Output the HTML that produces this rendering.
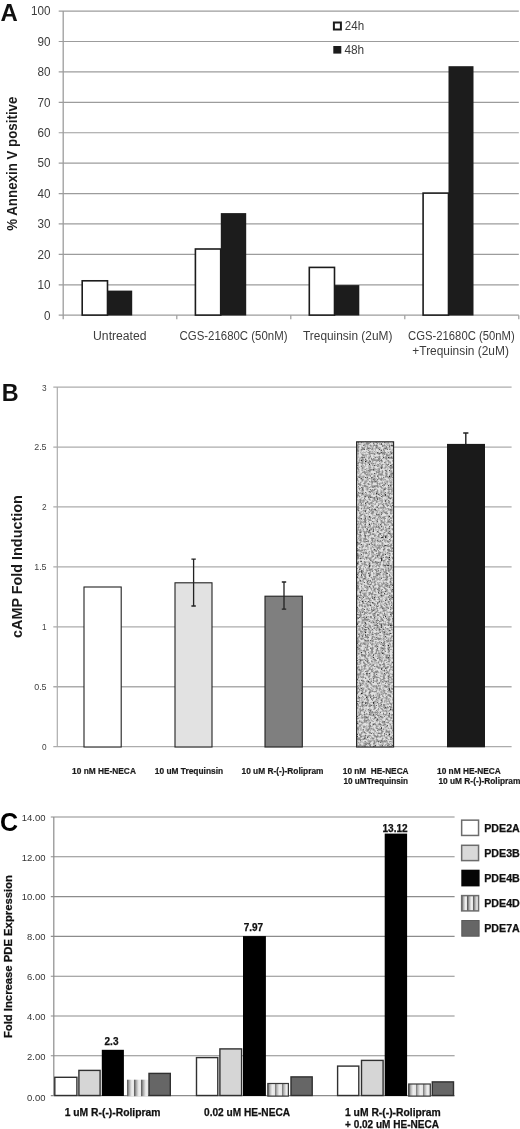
<!DOCTYPE html>
<html><head><meta charset="utf-8"><title>Figure</title>
<style>
html,body{margin:0;padding:0;background:#fff;}
svg{display:block;font-family:"Liberation Sans",sans-serif;}
</style></head>
<body>
<svg width="520" height="1129" viewBox="0 0 520 1129">
<rect width="520" height="1129" fill="#fff"/>
<defs>
<filter id="spk" x="0" y="0" width="100%" height="100%" color-interpolation-filters="sRGB">
<feTurbulence type="fractalNoise" baseFrequency="0.42" numOctaves="2" seed="3" result="n"/>
<feColorMatrix in="n" type="matrix" values="3.2 0 0 0 -1.0  3.2 0 0 0 -1.0  3.2 0 0 0 -1.0  0 0 0 0 1" result="t1"/>
<feColorMatrix in="t1" type="matrix" values="0.34 0 0 0 0.54  0.34 0 0 0 0.54  0.34 0 0 0 0.54  0 0 0 0 1" result="tone"/>
<feTurbulence type="fractalNoise" baseFrequency="0.75" numOctaves="1" seed="19" result="n2"/>
<feColorMatrix in="n2" type="matrix" values="0 0 0 0 0  0 0 0 0 0  0 0 0 0 0  0 6 0 0 -3.75" result="a"/>
<feFlood flood-color="#181818" result="f"/>
<feComposite in="f" in2="a" operator="in" result="dots"/>
<feMerge result="m"><feMergeNode in="tone"/><feMergeNode in="dots"/></feMerge>
<feGaussianBlur in="m" stdDeviation="0.4" result="bl"/>
<feComposite in="bl" in2="SourceGraphic" operator="in"/>
</filter>
<linearGradient id="strp0" x1="127.30000000000001" y1="0" x2="134.3" y2="0" gradientUnits="userSpaceOnUse" spreadMethod="repeat"><stop offset="0" stop-color="#606060"/><stop offset="0.33" stop-color="#b4b4b4"/><stop offset="0.66" stop-color="#eeeeee"/><stop offset="1" stop-color="#e6e6e6"/></linearGradient>
<linearGradient id="strp1" x1="267.59999999999997" y1="0" x2="274.59999999999997" y2="0" gradientUnits="userSpaceOnUse" spreadMethod="repeat"><stop offset="0" stop-color="#606060"/><stop offset="0.33" stop-color="#b4b4b4"/><stop offset="0.66" stop-color="#eeeeee"/><stop offset="1" stop-color="#e6e6e6"/></linearGradient>
<linearGradient id="strp2" x1="408.5" y1="0" x2="415.5" y2="0" gradientUnits="userSpaceOnUse" spreadMethod="repeat"><stop offset="0" stop-color="#606060"/><stop offset="0.33" stop-color="#b4b4b4"/><stop offset="0.66" stop-color="#eeeeee"/><stop offset="1" stop-color="#e6e6e6"/></linearGradient>
<linearGradient id="strpL" x1="461.6" y1="0" x2="467.5" y2="0" gradientUnits="userSpaceOnUse" spreadMethod="repeat"><stop offset="0" stop-color="#606060"/><stop offset="0.33" stop-color="#b4b4b4"/><stop offset="0.66" stop-color="#eeeeee"/><stop offset="1" stop-color="#e6e6e6"/></linearGradient>
</defs>
<line x1="58.7" y1="315.20" x2="518.8" y2="315.20" stroke="#9c9c9c" stroke-width="1.2"/>
<text x="50.6" y="319.5" font-size="12.5" text-anchor="end" fill="#3c3c3c" textLength="6.5" lengthAdjust="spacingAndGlyphs">0</text>
<line x1="58.7" y1="284.79" x2="518.8" y2="284.79" stroke="#9c9c9c" stroke-width="1.2"/>
<text x="50.6" y="289.09" font-size="12.5" text-anchor="end" fill="#3c3c3c" textLength="13.0" lengthAdjust="spacingAndGlyphs">10</text>
<line x1="58.7" y1="254.38" x2="518.8" y2="254.38" stroke="#9c9c9c" stroke-width="1.2"/>
<text x="50.6" y="258.68" font-size="12.5" text-anchor="end" fill="#3c3c3c" textLength="13.0" lengthAdjust="spacingAndGlyphs">20</text>
<line x1="58.7" y1="223.97" x2="518.8" y2="223.97" stroke="#9c9c9c" stroke-width="1.2"/>
<text x="50.6" y="228.27" font-size="12.5" text-anchor="end" fill="#3c3c3c" textLength="13.0" lengthAdjust="spacingAndGlyphs">30</text>
<line x1="58.7" y1="193.56" x2="518.8" y2="193.56" stroke="#9c9c9c" stroke-width="1.2"/>
<text x="50.6" y="197.86" font-size="12.5" text-anchor="end" fill="#3c3c3c" textLength="13.0" lengthAdjust="spacingAndGlyphs">40</text>
<line x1="58.7" y1="163.15" x2="518.8" y2="163.15" stroke="#9c9c9c" stroke-width="1.2"/>
<text x="50.6" y="167.45" font-size="12.5" text-anchor="end" fill="#3c3c3c" textLength="13.0" lengthAdjust="spacingAndGlyphs">50</text>
<line x1="58.7" y1="132.74" x2="518.8" y2="132.74" stroke="#9c9c9c" stroke-width="1.2"/>
<text x="50.6" y="137.04" font-size="12.5" text-anchor="end" fill="#3c3c3c" textLength="13.0" lengthAdjust="spacingAndGlyphs">60</text>
<line x1="58.7" y1="102.33" x2="518.8" y2="102.33" stroke="#9c9c9c" stroke-width="1.2"/>
<text x="50.6" y="106.63" font-size="12.5" text-anchor="end" fill="#3c3c3c" textLength="13.0" lengthAdjust="spacingAndGlyphs">70</text>
<line x1="58.7" y1="71.92" x2="518.8" y2="71.92" stroke="#9c9c9c" stroke-width="1.2"/>
<text x="50.6" y="76.22" font-size="12.5" text-anchor="end" fill="#3c3c3c" textLength="13.0" lengthAdjust="spacingAndGlyphs">80</text>
<line x1="58.7" y1="41.51" x2="518.8" y2="41.51" stroke="#9c9c9c" stroke-width="1.2"/>
<text x="50.6" y="45.81" font-size="12.5" text-anchor="end" fill="#3c3c3c" textLength="13.0" lengthAdjust="spacingAndGlyphs">90</text>
<line x1="58.7" y1="11.10" x2="518.8" y2="11.10" stroke="#9c9c9c" stroke-width="1.2"/>
<text x="50.6" y="15.4" font-size="12.5" text-anchor="end" fill="#3c3c3c" textLength="19.5" lengthAdjust="spacingAndGlyphs">100</text>
<line x1="63.2" y1="11.1" x2="63.2" y2="319.2" stroke="#9c9c9c" stroke-width="1.3"/>
<line x1="176.8" y1="315.2" x2="176.8" y2="319.2" stroke="#9c9c9c" stroke-width="1.2"/>
<line x1="290.8" y1="315.2" x2="290.8" y2="319.2" stroke="#9c9c9c" stroke-width="1.2"/>
<line x1="404.8" y1="315.2" x2="404.8" y2="319.2" stroke="#9c9c9c" stroke-width="1.2"/>
<line x1="518.8" y1="315.2" x2="518.8" y2="319.2" stroke="#9c9c9c" stroke-width="1.2"/>
<rect x="82.20" y="280.80" width="25.30" height="34.30" fill="#fff" stroke="#1c1c1c" stroke-width="1.6"/>
<rect x="107.6" y="290.60" width="24.60" height="24.90" fill="#1c1c1c"/>
<rect x="195.40" y="249.00" width="25.30" height="66.10" fill="#fff" stroke="#1c1c1c" stroke-width="1.6"/>
<rect x="220.8" y="213.10" width="25.40" height="102.40" fill="#1c1c1c"/>
<rect x="309.30" y="267.40" width="25.20" height="47.70" fill="#fff" stroke="#1c1c1c" stroke-width="1.6"/>
<rect x="334.7" y="285.10" width="24.60" height="30.40" fill="#1c1c1c"/>
<rect x="423.10" y="193.10" width="25.40" height="122.00" fill="#fff" stroke="#1c1c1c" stroke-width="1.6"/>
<rect x="448.5" y="66.20" width="25.00" height="249.30" fill="#1c1c1c"/>
<text x="119.8" y="340.2" font-size="12.5" text-anchor="middle" fill="#3c3c3c" textLength="53.4" lengthAdjust="spacingAndGlyphs">Untreated</text>
<text x="233.5" y="340.2" font-size="12.5" text-anchor="middle" fill="#3c3c3c" textLength="108" lengthAdjust="spacingAndGlyphs">CGS-21680C (50nM)</text>
<text x="347.7" y="340.2" font-size="12.5" text-anchor="middle" fill="#3c3c3c" textLength="89.3" lengthAdjust="spacingAndGlyphs">Trequinsin (2uM)</text>
<text x="461.4" y="340.2" font-size="12.5" text-anchor="middle" fill="#3c3c3c" textLength="106.6" lengthAdjust="spacingAndGlyphs">CGS-21680C (50nM)</text>
<text x="460.6" y="355.2" font-size="12.5" text-anchor="middle" fill="#3c3c3c" textLength="96.5" lengthAdjust="spacingAndGlyphs">+Trequinsin (2uM)</text>
<rect x="333.9" y="22.5" width="7" height="7" fill="#fff" stroke="#1c1c1c" stroke-width="2"/>
<text x="344.8" y="30" font-size="12.5" fill="#3c3c3c" textLength="19.4" lengthAdjust="spacingAndGlyphs">24h</text>
<rect x="333.3" y="46" width="8" height="7.6" fill="#1c1c1c"/>
<text x="344.4" y="53.8" font-size="12.5" fill="#3c3c3c" textLength="19.8" lengthAdjust="spacingAndGlyphs">48h</text>
<text x="17.3" y="163.7" font-size="14.4" text-anchor="middle" font-weight="bold" fill="#1a1a1a" textLength="134.2" lengthAdjust="spacingAndGlyphs" transform="rotate(-90 17.3 163.7)">% Annexin V positive</text>
<text x="0.6" y="21.2" font-size="23.4" font-weight="bold" fill="#111" textLength="17.3" lengthAdjust="spacingAndGlyphs">A</text>
<line x1="53.3" y1="746.70" x2="511.6" y2="746.70" stroke="#acacac" stroke-width="1.3"/>
<text x="46.6" y="750.1" font-size="9.8" text-anchor="end" fill="#444" textLength="4.6" lengthAdjust="spacingAndGlyphs">0</text>
<line x1="53.3" y1="686.77" x2="511.6" y2="686.77" stroke="#acacac" stroke-width="1.3"/>
<text x="46.6" y="690.17" font-size="9.8" text-anchor="end" fill="#444" textLength="12.4" lengthAdjust="spacingAndGlyphs">0.5</text>
<line x1="53.3" y1="626.83" x2="511.6" y2="626.83" stroke="#acacac" stroke-width="1.3"/>
<text x="46.6" y="630.23" font-size="9.8" text-anchor="end" fill="#444" textLength="4.6" lengthAdjust="spacingAndGlyphs">1</text>
<line x1="53.3" y1="566.90" x2="511.6" y2="566.90" stroke="#acacac" stroke-width="1.3"/>
<text x="46.6" y="570.3" font-size="9.8" text-anchor="end" fill="#444" textLength="12.4" lengthAdjust="spacingAndGlyphs">1.5</text>
<line x1="53.3" y1="506.97" x2="511.6" y2="506.97" stroke="#acacac" stroke-width="1.3"/>
<text x="46.6" y="510.37" font-size="9.8" text-anchor="end" fill="#444" textLength="4.6" lengthAdjust="spacingAndGlyphs">2</text>
<line x1="53.3" y1="447.03" x2="511.6" y2="447.03" stroke="#acacac" stroke-width="1.3"/>
<text x="46.6" y="450.43" font-size="9.8" text-anchor="end" fill="#444" textLength="12.4" lengthAdjust="spacingAndGlyphs">2.5</text>
<line x1="53.3" y1="387.10" x2="511.6" y2="387.10" stroke="#acacac" stroke-width="1.3"/>
<text x="46.6" y="390.5" font-size="9.8" text-anchor="end" fill="#444" textLength="4.6" lengthAdjust="spacingAndGlyphs">3</text>
<line x1="57.3" y1="387.1" x2="57.3" y2="746.7" stroke="#acacac" stroke-width="1.2"/>
<rect x="84" y="587" width="37.2" height="160.00" fill="#fff" stroke="#222" stroke-width="1.1"/>
<rect x="175" y="582.8" width="37" height="164.20" fill="#e2e2e2" stroke="#222" stroke-width="1.1"/>
<path d="M193.6 559.2V606M191.4 559.2H195.79999999999998M191.4 606H195.79999999999998" stroke="#222" stroke-width="1.3" fill="none"/>
<rect x="265" y="596.2" width="37.3" height="150.80" fill="#7f7f7f" stroke="#222" stroke-width="1.1"/>
<path d="M284 582V609.2M281.8 582H286.2M281.8 609.2H286.2" stroke="#222" stroke-width="1.3" fill="none"/>
<rect x="356.6" y="441.8" width="37" height="305.20" fill="#c4c4c4" filter="url(#spk)"/>
<rect x="356.6" y="441.8" width="37" height="305.20" fill="none" stroke="#222" stroke-width="1.1"/>
<path d="M465.8 433V446M463.2 433H468.4" stroke="#222" stroke-width="1.4" fill="none"/>
<rect x="447.0" y="443.9" width="38" height="303.40" fill="#1a1a1a"/>
<text x="72.1" y="774.3" font-size="8.3" font-weight="bold" fill="#1a1a1a" textLength="63.8" lengthAdjust="spacingAndGlyphs" stroke="#1a1a1a" stroke-width="0.2">10 nM HE-NECA</text>
<text x="154.8" y="774.3" font-size="8.3" font-weight="bold" fill="#1a1a1a" textLength="68.3" lengthAdjust="spacingAndGlyphs" stroke="#1a1a1a" stroke-width="0.2">10 uM Trequinsin</text>
<text x="241.5" y="774.3" font-size="8.3" font-weight="bold" fill="#1a1a1a" textLength="82" lengthAdjust="spacingAndGlyphs" stroke="#1a1a1a" stroke-width="0.2">10 uM R-(-)-Rolipram</text>
<text x="342.8" y="774.3" font-size="8.3" font-weight="bold" fill="#1a1a1a" textLength="65.8" lengthAdjust="spacingAndGlyphs" xml:space="preserve" stroke="#1a1a1a" stroke-width="0.2">10 nM&#160; HE-NECA</text>
<text x="343.5" y="784.3" font-size="8.3" font-weight="bold" fill="#1a1a1a" textLength="64.5" lengthAdjust="spacingAndGlyphs" stroke="#1a1a1a" stroke-width="0.2">10 uMTrequinsin</text>
<text x="437" y="774.3" font-size="8.3" font-weight="bold" fill="#1a1a1a" textLength="63.8" lengthAdjust="spacingAndGlyphs" stroke="#1a1a1a" stroke-width="0.2">10 nM HE-NECA</text>
<text x="438.4" y="784.3" font-size="8.3" font-weight="bold" fill="#1a1a1a" textLength="82" lengthAdjust="spacingAndGlyphs" stroke="#1a1a1a" stroke-width="0.2">10 uM R-(-)-Rolipram</text>
<text x="22.4" y="566.6" font-size="14.3" text-anchor="middle" font-weight="bold" fill="#1a1a1a" textLength="142.8" lengthAdjust="spacingAndGlyphs" transform="rotate(-90 22.4 566.6)">cAMP Fold Induction</text>
<text x="1.8" y="400.8" font-size="23.4" font-weight="bold" fill="#111">B</text>
<line x1="50.8" y1="1095.60" x2="454.6" y2="1095.60" stroke="#8c8c8c" stroke-width="1.1"/>
<text x="45.5" y="1100.5" font-size="9.5" text-anchor="end" fill="#333" textLength="18.4" lengthAdjust="spacingAndGlyphs">0.00</text>
<line x1="50.8" y1="1055.80" x2="454.6" y2="1055.80" stroke="#8c8c8c" stroke-width="1.1"/>
<text x="45.5" y="1059.6" font-size="9.5" text-anchor="end" fill="#333" textLength="18.4" lengthAdjust="spacingAndGlyphs">2.00</text>
<line x1="50.8" y1="1016.00" x2="454.6" y2="1016.00" stroke="#8c8c8c" stroke-width="1.1"/>
<text x="45.5" y="1019.8" font-size="9.5" text-anchor="end" fill="#333" textLength="18.4" lengthAdjust="spacingAndGlyphs">4.00</text>
<line x1="50.8" y1="976.20" x2="454.6" y2="976.20" stroke="#8c8c8c" stroke-width="1.1"/>
<text x="45.5" y="980.0" font-size="9.5" text-anchor="end" fill="#333" textLength="18.4" lengthAdjust="spacingAndGlyphs">6.00</text>
<line x1="50.8" y1="936.40" x2="454.6" y2="936.40" stroke="#8c8c8c" stroke-width="1.1"/>
<text x="45.5" y="940.2" font-size="9.5" text-anchor="end" fill="#333" textLength="18.4" lengthAdjust="spacingAndGlyphs">8.00</text>
<line x1="50.8" y1="896.60" x2="454.6" y2="896.60" stroke="#8c8c8c" stroke-width="1.1"/>
<text x="45.5" y="900.4" font-size="9.5" text-anchor="end" fill="#333" textLength="23.8" lengthAdjust="spacingAndGlyphs">10.00</text>
<line x1="50.8" y1="856.80" x2="454.6" y2="856.80" stroke="#8c8c8c" stroke-width="1.1"/>
<text x="45.5" y="860.6" font-size="9.5" text-anchor="end" fill="#333" textLength="23.8" lengthAdjust="spacingAndGlyphs">12.00</text>
<line x1="50.8" y1="817.00" x2="454.6" y2="817.00" stroke="#8c8c8c" stroke-width="1.1"/>
<text x="45.5" y="820.8" font-size="9.5" text-anchor="end" fill="#333" textLength="23.8" lengthAdjust="spacingAndGlyphs">14.00</text>
<line x1="53.8" y1="817.0" x2="53.8" y2="1095.6" stroke="#8c8c8c" stroke-width="1.2"/>
<rect x="54.80" y="1077.30" width="22.10" height="18.20" fill="#ffffff" stroke="#303030" stroke-width="1.4"/>
<rect x="78.90" y="1070.40" width="21.20" height="25.10" fill="#d6d6d6" stroke="#303030" stroke-width="1.4"/>
<rect x="101.80" y="1049.80" width="22.10" height="46.20" fill="#000"/>
<rect x="126.90" y="1079.70" width="21.20" height="16.50" fill="url(#strp0)"/>
<rect x="149.00" y="1073.40" width="21.30" height="22.10" fill="#666666" stroke="#303030" stroke-width="1.4"/>
<rect x="196.50" y="1057.60" width="21.30" height="37.90" fill="#ffffff" stroke="#303030" stroke-width="1.4"/>
<rect x="219.90" y="1048.90" width="21.70" height="46.60" fill="#d6d6d6" stroke="#303030" stroke-width="1.4"/>
<rect x="243.00" y="936.10" width="22.90" height="159.90" fill="#000"/>
<rect x="267.80" y="1083.50" width="20.60" height="12.60" fill="url(#strp1)" stroke="#3a3a3a" stroke-width="1.2"/>
<rect x="291.00" y="1076.90" width="21.20" height="18.60" fill="#666666" stroke="#303030" stroke-width="1.4"/>
<rect x="337.60" y="1066.10" width="21.20" height="29.40" fill="#ffffff" stroke="#303030" stroke-width="1.4"/>
<rect x="361.50" y="1060.40" width="21.60" height="35.10" fill="#d6d6d6" stroke="#303030" stroke-width="1.4"/>
<rect x="384.70" y="833.60" width="22.40" height="262.40" fill="#000"/>
<rect x="408.70" y="1084.00" width="21.60" height="12.10" fill="url(#strp2)" stroke="#3a3a3a" stroke-width="1.2"/>
<rect x="432.30" y="1081.90" width="21.20" height="13.60" fill="#666666" stroke="#303030" stroke-width="1.4"/>
<text x="111.5" y="1044.6" font-size="10" text-anchor="middle" font-weight="bold" fill="#111" stroke="#111" stroke-width="0.25">2.3</text>
<text x="253.4" y="931.4" font-size="10" text-anchor="middle" font-weight="bold" fill="#111" stroke="#111" stroke-width="0.25">7.97</text>
<text x="395.1" y="831.6" font-size="10" text-anchor="middle" font-weight="bold" fill="#111" textLength="25.2" lengthAdjust="spacingAndGlyphs" stroke="#111" stroke-width="0.25">13.12</text>
<text x="64.7" y="1116.4" font-size="10.3" font-weight="bold" fill="#111" textLength="95.8" lengthAdjust="spacingAndGlyphs" stroke="#111" stroke-width="0.25">1 uM R-(-)-Rolipram</text>
<text x="204" y="1116.4" font-size="10.3" font-weight="bold" fill="#111" textLength="86" lengthAdjust="spacingAndGlyphs" stroke="#111" stroke-width="0.25">0.02 uM HE-NECA</text>
<text x="345" y="1116.4" font-size="10.3" font-weight="bold" fill="#111" textLength="95.8" lengthAdjust="spacingAndGlyphs" stroke="#111" stroke-width="0.25">1 uM R-(-)-Rolipram</text>
<text x="345" y="1127.8" font-size="10.3" font-weight="bold" fill="#111" textLength="94" lengthAdjust="spacingAndGlyphs" stroke="#111" stroke-width="0.25">+ 0.02 uM HE-NECA</text>
<rect x="461.65" y="820.15" width="16.9" height="15.3" fill="#fff" stroke="#6c6c6c" stroke-width="1.5"/>
<text x="484.2" y="831.7" font-size="10.6" font-weight="bold" fill="#111" textLength="35.6" lengthAdjust="spacingAndGlyphs" stroke="#111" stroke-width="0.25">PDE2A</text>
<rect x="461.65" y="845.30" width="16.9" height="15.3" fill="#d9d9d9" stroke="#6c6c6c" stroke-width="1.5"/>
<text x="484.2" y="856.7" font-size="10.6" font-weight="bold" fill="#111" textLength="35.6" lengthAdjust="spacingAndGlyphs" stroke="#111" stroke-width="0.25">PDE3B</text>
<rect x="461.3" y="869.70" width="18.3" height="16.7" fill="#050505"/>
<text x="484.2" y="881.7" font-size="10.6" font-weight="bold" fill="#111" textLength="35.6" lengthAdjust="spacingAndGlyphs" stroke="#111" stroke-width="0.25">PDE4B</text>
<rect x="461.65" y="895.60" width="16.9" height="15.3" fill="url(#strpL)" stroke="#6c6c6c" stroke-width="1.5"/>
<text x="484.2" y="906.7" font-size="10.6" font-weight="bold" fill="#111" textLength="35.6" lengthAdjust="spacingAndGlyphs" stroke="#111" stroke-width="0.25">PDE4D</text>
<rect x="461.8" y="920.50" width="17.3" height="15.7" fill="#666" stroke="#5a5a5a" stroke-width="1"/>
<text x="484.2" y="931.7" font-size="10.6" font-weight="bold" fill="#111" textLength="35.6" lengthAdjust="spacingAndGlyphs" stroke="#111" stroke-width="0.25">PDE7A</text>
<text x="12.2" y="956.6" font-size="11.3" text-anchor="middle" font-weight="bold" fill="#111" textLength="163" lengthAdjust="spacingAndGlyphs" transform="rotate(-90 12.2 956.6)" stroke="#111" stroke-width="0.25">Fold Increase PDE Expression</text>
<text x="0.0" y="831.3" font-size="25" font-weight="bold" fill="#000">C</text>
</svg>
</body></html>
